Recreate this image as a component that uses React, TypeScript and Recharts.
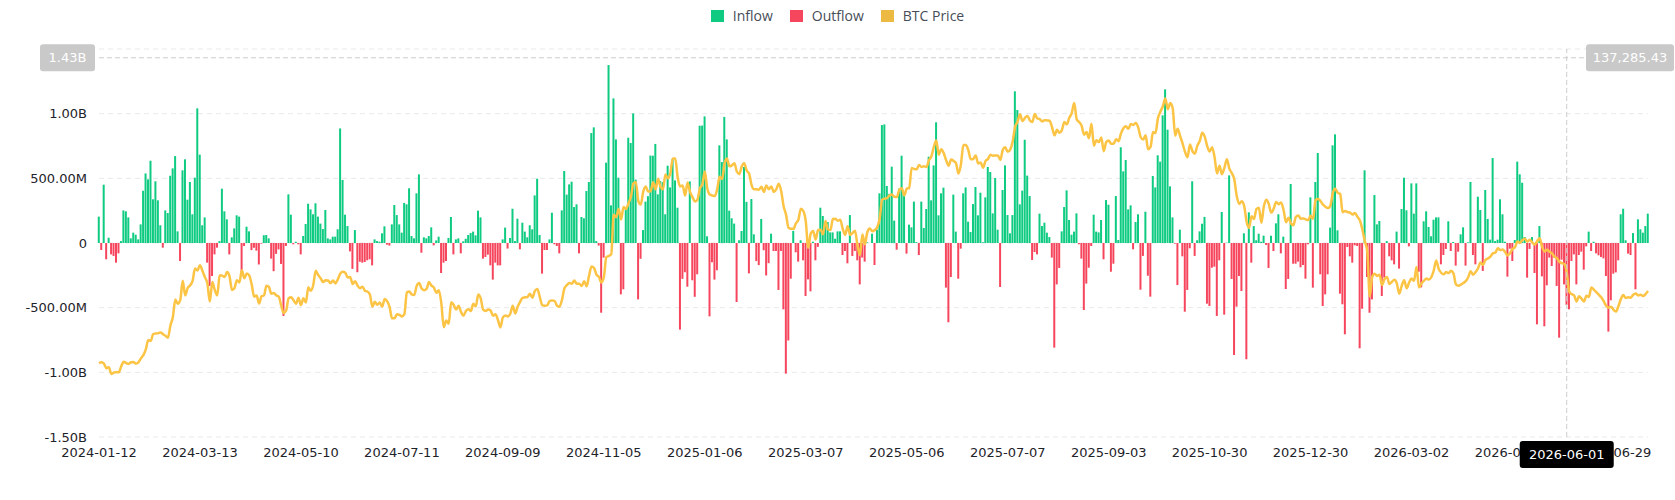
import React from 'react';
import { ComposedChart, Bar, Line, XAxis, YAxis, CartesianGrid, ReferenceLine } from 'recharts';

// Spot BTC ETF net flow per trading day, USD millions (first entry = 2024-01-12)
const netFlowM = [
  204, -54, 451, -126, 41, -88, -100, -152, -80, 15,
  252, 245, 198, 36, 80, 64, 28, 144, 404, 538,
  492, 636, 338, 477, 330, 137, -36, 252, 232, 520,
  577, 672, 90, -139, 562, 647, 335, 472, 222, 505,
  1041, 683, 137, 198, -152, -332, -255, -88, -36, 15,
  420, 245, 183, -88, 44, 113, 214, 204, -224, -23,
  126, 90, -55, -37, -59, -166, -5, 60, 62, 36,
  -121, -218, -84, -50, -162, -564, -23, 376, 219, -10,
  10, -10, -88, 54, 147, 304, 260, 222, 307, 204,
  150, 108, 255, 36, 28, 49, 49, 106, 886, 487,
  219, 131, -65, -200, 100, -226, -145, -152, -147, -134,
  -126, -173, 28, 15, 10, 75, 129, -13, -20, 144,
  294, 216, 144, 80, 310, 299, 423, 54, 36, 384,
  531, -75, 44, 36, 54, 121, -18, 20, 49, -232,
  -152, -139, 39, 201, -88, 28, 36, -80, 13, 33,
  62, 77, 88, 59, 250, 198, -121, -108, -90, -173,
  -283, -152, -173, -173, 28, 119, -43, 39, 265, 15,
  188, -49, 157, 88, 44, 137, 106, 368, 497, 62,
  -237, -54, -54, 28, 234, -10, -23, -80, 252, 557,
  374, 453, 474, 278, 299, -80, 201, 191, 402, 472,
  850, 894, 15, -20, -539, -113, 621, 1376, 291, 1118,
  801, 505, -397, -358, 255, 814, 773, 1002, 490, -436,
  -122, 100, 320, 362, 676, 675, 766, 376, 479, 470,
  222, 598, 430, 650, 484, 273, -670, -277, -226, -338,
  476, -288, -416, -242, 907, 908, 979, 52, -567, -149,
  -283, -211, 755, 626, 975, 801, 250, 191, 150, -456,
  21, 93, 588, 318, -235, 340, 67, -140, -171, 186,
  -56, -251, -156, 72, -62, -62, -363, -62, -513, -1010,
  -754, -276, 94, -72, -144, 21, -134, -410, -281, -374,
  10, -134, -30, 273, 209, 142, 162, 82, 82, 33,
  90, 90, -93, -62, -157, 216, -100, -62, -134, -320,
  -113, -144, 5, 1, 72, -170, 103, 384, 912, 917,
  441, 380, 590, 173, -52, 420, 675, 371, -82, 142,
  121, 320, 7, -93, 320, 116, 263, 667, 330, 600,
  933, 214, 384, 428, -345, -613, -263, 374, 88, -276,
  -44, 384, 430, 165, 85, 301, 433, 214, 389, 6,
  353, 588, 549, 229, 503, 103, -340, 410, 600, 216,
  75, 216, 1173, 1028, 299, 405, 799, 521, 363, -131,
  -70, -88, 227, 131, 157, 80, 46, -113, -809, -320,
  -193, 90, 278, 407, 178, 64, 88, 229, -10, -121,
  -518, -314, -191, -23, 219, 88, 82, 178, -126, 332,
  296, -222, -160, 363, 23, 740, 554, 642, 260, 291,
  -49, 162, 222, -361, -100, 242, -253, -415, 518, 430,
  678, 629, 987, 1188, 876, 438, 198, -5, -325, 103,
  -103, -531, -363, -41, 477, -100, 21, 90, 149, 202,
  -469, -487, -191, -183, -564, -134, 240, -554, 2, 523,
  -278, -866, -492, -255, -371, 75, -899, 237, -152, 131,
  21, 72, 10, 57, -15, -193, 57, -62, 152, 222,
  -80, 49, -356, -278, 456, -160, -160, -144, -188, -170,
  -276, -10, 353, -345, 472, 696, -242, -487, -397, -242,
  119, 755, 840, 98, -392, -474, -706, -31, -103, -152,
  -18, -23, -814, -508, 562, -263, -539, -436, 371, 144,
  170, -410, -268, 15, -103, -134, -165, 88, -198, 263,
  505, 253, -26, 461, 227, 461, -222, -343, 168, 245,
  124, 52, 180, 198, 198, -165, -93, -46, 168, -62,
  8, -175, -67, 67, 121, -175, 5, 472, -93, -165,
  358, 255, -216, 410, 186, 26, 657, 15, 26, 338,
  222, 10, -260, -44, -139, 23, 629, 531, 466, 46,
  -268, -46, 46, -232, -629, 131, -258, -644, -327, -113,
  -178, -113, -332, -732, -129, -320, -479, -513, -139, -88,
  -320, -93, -67, -206, -26, 88, -62, 10, -80, -95,
  -108, -119, -255, -685, -443, -237, -227, -134, 222, 265,
  21, -82, -93, 77, -358, 183, 106, 80, 131, 227,
];

// BTC close on the same days, USD thousands
const btcPriceK = [
  42.8, 43.1, 42.7, 41.3, 41.6, 39.5, 39.9, 40.1, 40.0, 41.8,
  43.3, 42.9, 42.6, 43.1, 43.2, 42.7, 43.1, 44.3, 45.3, 47.1,
  50.0, 49.7, 51.8, 52.0, 52.1, 52.3, 51.8, 51.3, 50.7, 54.5,
  57.1, 62.5, 61.2, 62.4, 68.3, 63.8, 66.1, 66.9, 68.3, 72.1,
  71.5, 73.1, 71.4, 69.4, 67.6, 61.9, 67.9, 65.5, 63.8, 70.0,
  69.9, 69.5, 71.0, 69.7, 65.5, 66.0, 68.5, 67.8, 71.6, 69.1,
  70.6, 70.0, 67.2, 63.4, 63.8, 61.3, 63.5, 63.8, 66.8, 66.4,
  64.3, 64.5, 63.8, 63.4, 60.6, 58.3, 59.1, 62.9, 63.2, 62.3,
  61.2, 63.1, 60.8, 62.9, 61.6, 66.3, 65.2, 67.0, 71.4, 70.1,
  69.1, 67.9, 68.5, 68.4, 67.6, 68.4, 67.5, 68.8, 70.6, 71.1,
  70.8, 69.3, 69.5, 67.3, 68.2, 66.8, 66.0, 66.5, 65.2, 65.0,
  64.1, 60.3, 61.8, 60.9, 61.6, 60.3, 62.7, 62.0, 60.2, 56.7,
  56.7, 58.0, 57.8, 57.3, 58.0, 64.7, 65.0, 64.1, 63.9, 66.7,
  67.6, 65.9, 65.4, 65.8, 67.9, 66.8, 66.2, 64.6, 65.4, 61.4,
  54.0, 56.0, 55.0, 61.7, 60.9, 59.4, 60.6, 58.7, 57.5, 59.0,
  59.5, 59.0, 61.2, 60.4, 64.1, 62.9, 59.4, 59.0, 59.4, 59.1,
  57.5, 58.0, 56.2, 53.9, 57.0, 57.6, 57.3, 58.1, 60.6, 58.2,
  60.3, 61.8, 63.0, 63.2, 63.3, 64.3, 63.1, 65.2, 65.8, 63.3,
  60.8, 60.6, 60.7, 62.1, 62.2, 62.1, 60.6, 60.3, 62.4, 66.0,
  67.0, 67.6, 67.4, 68.4, 67.4, 67.4, 66.7, 68.2, 66.6, 69.9,
  72.7, 72.3, 70.2, 69.5, 67.8, 69.4, 75.6, 76.0, 76.5, 88.7,
  88.0, 90.5, 87.3, 91.1, 90.5, 92.3, 94.3, 98.4, 98.9, 93.0,
  91.9, 95.9, 97.5, 95.9, 96.0, 98.8, 96.6, 99.9, 97.4, 96.6,
  101.2, 100.0, 101.5, 106.1, 106.1, 100.2, 97.5, 97.8, 94.7, 98.7,
  95.8, 94.2, 92.8, 93.4, 96.9, 98.1, 102.1, 96.9, 95.0, 94.7,
  94.5, 96.5, 100.5, 99.8, 104.4, 106.1, 103.7, 104.0, 104.7, 102.1,
  101.3, 103.7, 104.7, 102.4, 101.4, 97.9, 96.6, 96.6, 96.5, 97.4,
  95.8, 97.8, 96.6, 97.5, 95.8, 96.6, 98.3, 96.1, 91.4, 88.7,
  84.7, 84.4, 84.4, 86.1, 87.2, 90.6, 89.9, 86.7, 78.5, 82.9,
  83.7, 81.1, 84.0, 84.1, 82.7, 86.8, 84.2, 84.0, 87.4, 87.5,
  86.9, 87.2, 84.4, 82.5, 85.2, 82.5, 83.1, 83.8, 79.2, 76.3,
  82.6, 79.6, 83.4, 84.5, 83.6, 84.0, 84.9, 87.5, 93.4, 93.7,
  93.9, 94.7, 95.0, 94.3, 94.2, 96.5, 96.9, 94.7, 96.8, 97.0,
  103.2, 102.9, 102.8, 104.1, 103.5, 103.7, 103.5, 105.6, 106.8, 109.7,
  111.7, 107.3, 109.0, 107.8, 105.6, 103.9, 105.8, 105.4, 104.7, 101.5,
  104.3, 110.3, 110.3, 108.7, 105.9, 106.0, 107.1, 104.6, 104.9, 103.3,
  105.4, 106.0, 107.3, 107.0, 107.1, 107.1, 105.7, 108.8, 109.6, 108.2,
  108.9, 111.3, 116.0, 117.5, 119.8, 117.7, 118.7, 119.3, 117.9, 117.4,
  119.9, 118.5, 118.3, 117.6, 118.0, 117.9, 117.8, 115.8, 113.3, 115.0,
  114.1, 114.9, 117.4, 116.7, 118.7, 120.2, 123.3, 118.3, 117.4, 116.3,
  113.5, 114.3, 112.4, 116.9, 110.1, 111.8, 111.2, 112.6, 108.4, 111.2,
  111.7, 110.7, 110.7, 112.1, 111.5, 113.9, 115.5, 116.1, 115.3, 116.8,
  116.5, 117.1, 115.7, 112.7, 112.0, 113.3, 109.0, 109.7, 114.3, 114.0,
  118.6, 120.6, 122.3, 124.7, 121.4, 123.3, 121.7, 113.2, 115.3, 113.1,
  110.8, 108.2, 106.5, 110.5, 108.4, 107.6, 110.1, 111.6, 114.1, 112.9,
  110.0, 108.3, 109.6, 106.5, 101.5, 103.9, 101.3, 103.3, 105.9, 103.0,
  101.6, 99.7, 94.5, 92.1, 92.9, 91.5, 86.6, 84.7, 88.3, 87.4,
  90.5, 90.9, 86.3, 91.3, 93.4, 92.1, 89.4, 90.6, 92.7, 92.0,
  92.5, 90.3, 86.4, 87.8, 86.1, 85.5, 88.1, 88.5, 87.5, 87.6,
  87.3, 87.1, 88.4, 87.5, 93.3, 93.6, 93.0, 91.9, 91.2, 90.8,
  91.5, 95.4, 96.8, 95.5, 95.2, 89.5, 89.9, 89.6, 89.4, 88.8,
  89.3, 88.1, 87.0, 84.2, 80.6, 77.5, 63.5, 69.5, 70.5, 69.8,
  70.2, 67.0, 68.8, 69.5, 67.3, 68.0, 68.6, 67.5, 64.3, 66.8,
  68.5, 66.0, 67.8, 69.0, 68.3, 72.6, 66.2, 67.5, 68.3, 69.0,
  68.7, 69.4, 71.5, 74.6, 72.0, 70.8, 70.3, 71.0, 70.7, 71.4,
  70.6, 67.2, 66.8, 67.1, 67.6, 68.2, 69.4, 71.3, 70.2, 71.0,
  72.2, 74.0, 73.2, 74.8, 75.2, 75.8, 76.8, 77.0, 78.4, 77.8,
  78.0, 77.2, 76.1, 76.9, 78.2, 78.7, 80.5, 80.0, 80.9, 81.3,
  80.4, 81.0, 80.2, 79.5, 80.6, 81.5, 78.8, 77.4, 77.9, 77.3,
  76.8, 75.8, 75.3, 74.2, 73.8, 73.5, 71.0, 65.0, 64.2, 63.8,
  61.9, 63.5, 62.8, 61.9, 63.7, 63.3, 66.2, 65.6, 64.8, 64.0,
  63.2, 62.0, 60.6, 60.0, 60.3, 59.3, 58.8, 60.5, 62.7, 63.9,
  63.0, 63.2, 63.1, 64.0, 64.4, 63.8, 64.0, 63.6, 64.2, 65.2,
];

// every 41st trading day gets a date label
const xTickIdx = [0, 41, 82, 123, 164, 205, 246, 287, 328, 369, 410, 451, 492, 533, 574, 615];
const xTickLabels = [
  '2024-01-12', '2024-03-13', '2024-05-10', '2024-07-11', '2024-09-09', '2024-11-05',
  '2025-01-06', '2025-03-07', '2025-05-06', '2025-07-07', '2025-09-03', '2025-10-30',
  '2025-12-30', '2026-03-02', '2026-04-29', '2026-06-29',
];
const flowTicks = [-1500, -1000, -500, 0, 500, 1000, 1500];

// crosshair position
const cursorIdx = 596;
const cursorDate = '2026-06-01';
const cursorFlowM = 1432;
const cursorPrice = 137285.43;

const legendItems = [
  { name: 'Inflow', color: '#0ecb81' },
  { name: 'Outflow', color: '#f6465d' },
  { name: 'BTC Price', color: '#ecb942' },
];

const data = netFlowM.map((v, i) => ({
  idx: i,
  inflow: v > 0 ? v : 0,
  outflow: v < 0 ? v : 0,
  price: btcPriceK[i] * 1000,
}));

const fmtFlow = (v: number) => {
  if (v === 0) return '0';
  return Math.abs(v) >= 1000 ? `${(v / 1000).toFixed(2)}B` : `${v.toFixed(2)}M`;
};

const tickFont = { fontFamily: 'DejaVu Sans', fontSize: 13, fill: '#1e2329' };
const tagFont = { fontFamily: 'DejaVu Sans', fontSize: 13 };

function FlowTags({ viewBox }: any) {
  if (!viewBox) return null;
  const y = viewBox.y;
  const right = viewBox.x + viewBox.width;
  return (
    <g>
      <rect x={viewBox.x - 59} y={y - 13.5} width={55} height={27} rx={3} fill="#c9c9c9" />
      <text x={viewBox.x - 31.5} y={y} dy="0.36em" textAnchor="middle" fill="#fff" style={tagFont}>
        {fmtFlow(cursorFlowM)}
      </text>
      <rect x={right - 62} y={y - 13.5} width={88} height={27} rx={3} fill="#c9c9c9" />
      <text x={right - 18} y={y} dy="0.36em" textAnchor="middle" fill="#fff" style={tagFont}>
        {cursorPrice.toLocaleString('en-US', { minimumFractionDigits: 2 })}
      </text>
    </g>
  );
}

function DateTag({ viewBox }: any) {
  if (!viewBox) return null;
  const x = viewBox.x;
  const y = viewBox.y + viewBox.height + 4;
  return (
    <g>
      <rect x={x - 47} y={y} width={94} height={27} rx={3} fill="#000" />
      <text x={x} y={y + 13.5} dy="0.36em" textAnchor="middle" fill="#fff" style={tagFont}>
        {cursorDate}
      </text>
    </g>
  );
}

export default function App() {
  return (
    <div style={{ position: 'absolute', left: 0, top: 0, width: 1675, height: 500, background: '#fff' }}>
      <div
        style={{
          position: 'absolute', top: 9, left: 0, width: 1675, height: 13,
          display: 'flex', justifyContent: 'center', alignItems: 'center', gap: 17,
          fontFamily: 'Open Sans', fontSize: 14, color: '#474d57',
        }}
      >
        {legendItems.map((it) => (
          <div key={it.name} style={{ display: 'flex', alignItems: 'center' }}>
            <span style={{ width: 13, height: 12, background: it.color, marginRight: 9, display: 'inline-block' }} />
            <span>{it.name}</span>
          </div>
        ))}
      </div>
      <ComposedChart
        width={1675}
        height={500}
        data={data}
        stackOffset="sign"
        margin={{ top: 49, right: 27, bottom: 33, left: 0 }}
      >
        <CartesianGrid yAxisId="left" vertical={false} stroke="#e8e9eb" strokeDasharray="5 4" />
        <XAxis
          dataKey="idx"
          type="number"
          domain={[0, 629]}
          ticks={xTickIdx}
          interval={0}
          tickFormatter={(v: number) => xTickLabels[xTickIdx.indexOf(v)] ?? ''}
          axisLine={false}
          tickLine={false}
          tickSize={0}
          tickMargin={11}
          height={30}
          tick={tickFont}
        />
        <YAxis
          yAxisId="left"
          width={99}
          domain={[-1500, 1500]}
          ticks={flowTicks}
          interval={0}
          tickFormatter={fmtFlow}
          axisLine={false}
          tickLine={false}
          tickSize={0}
          tickMargin={12}
          tick={tickFont}
        />
        <YAxis yAxisId="price" orientation="right" hide domain={[20000, 140000]} />
        <Bar yAxisId="left" dataKey="inflow" name="Inflow" stackId="flow" fill="#0ecb81" barSize={2} isAnimationActive={false} />
        <Bar yAxisId="left" dataKey="outflow" name="Outflow" stackId="flow" fill="#f6465d" barSize={2} isAnimationActive={false} />
        <Line
          yAxisId="price"
          dataKey="price"
          name="BTC Price"
          type="monotone"
          stroke="#fcc445"
          strokeWidth={2.5}
          dot={false}
          activeDot={false}
          isAnimationActive={false}
        />
        {/* crosshair: raised above the axis labels */}
        <ReferenceLine
          yAxisId="left"
          y={cursorFlowM}
          stroke="#cccccc"
          strokeDasharray="5 3"
          zIndex={2500}
          label={(p: any) => <FlowTags viewBox={p.viewBox} />}
        />
        <ReferenceLine
          yAxisId="left"
          x={cursorIdx}
          stroke="#cccccc"
          strokeDasharray="5 3"
          zIndex={2500}
          label={(p: any) => <DateTag viewBox={p.viewBox} />}
        />
      </ComposedChart>
    </div>
  );
}
